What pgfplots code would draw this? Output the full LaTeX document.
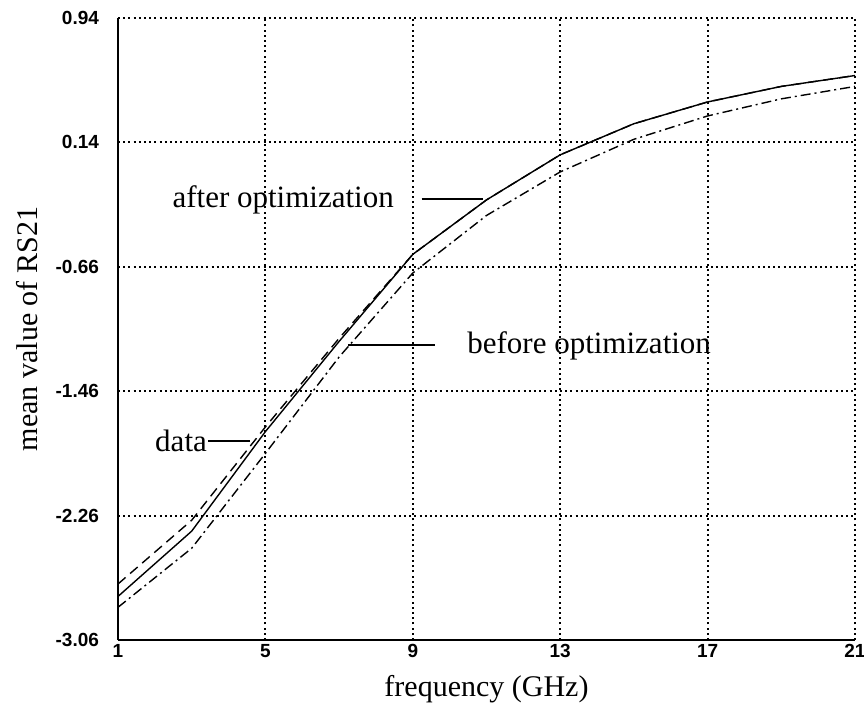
\documentclass[border=0pt]{standalone}
\usepackage{fontspec}
\setmainfont{Liberation Serif}
\setsansfont{Liberation Sans}
\usepackage{pgfplots}
\pgfplotsset{compat=1.18}
\begin{document}
\begin{tikzpicture}
\useasboundingbox (-59pt,-35pt) rectangle (373pt,320pt);
\begin{axis}[
  anchor=south west, at={(0,0)},
  scale only axis, width=368.5pt, height=311pt,
  xmin=1, xmax=21, ymin=-3.06, ymax=0.94,
  axis x line*=bottom, axis y line*=left,
  axis line style={-, line width=1pt},
  xtick={1,5,9,13,17,21},
  xticklabels={1,5,9,13,17,21},
  ytick={-3.06,-2.26,-1.46,-0.66,0.14,0.94},
  yticklabels={-3.06,-2.26,-1.46,-0.66,0.14,0.94},
  major tick length=0pt,
  grid=major,
  major grid style={line width=1pt, black, dash pattern=on 1pt off 1.6pt},
  ticklabel style={font=\fontsize{9.5}{10}\selectfont\sffamily\bfseries},
  yticklabel style={xshift=-6pt},
  xticklabel style={yshift=1.5pt},
  xlabel={frequency (GHz)},
  ylabel={mean value of RS21},
  label style={font=\fontsize{15}{17}\selectfont},
  xlabel style={yshift=-2pt},
  ylabel style={yshift=2pt},
  clip=false,
]
\addplot[black, line width=0.7pt] coordinates {
 (1,-2.78) (3,-2.36) (5,-1.72) (7,-1.14) (9,-0.58) (11,-0.23)
 (13,0.06) (15,0.26) (17,0.40) (19,0.50) (21,0.57)};
\addplot[black, line width=0.7pt, dash pattern=on 5pt off 3pt] coordinates {
 (1,-2.70) (3,-2.29) (5,-1.69) (7,-1.12) (9,-0.58) (11,-0.23)
 (13,0.06) (15,0.26) (17,0.40) (19,0.50) (21,0.57)};
\addplot[black, line width=0.7pt, dash pattern=on 5pt off 2pt on 1pt off 2pt] coordinates {
 (1,-2.85) (3,-2.47) (5,-1.86) (7,-1.24) (9,-0.70) (11,-0.33)
 (13,-0.05) (15,0.16) (17,0.31) (19,0.42) (21,0.50)};
\node[anchor=west, inner sep=0pt, font=\fontsize{15.5}{17}\selectfont] at (axis cs:2.47,-0.23) {after optimization};
\draw[black, line width=0.8pt] (axis cs:9.24,-0.225) -- (axis cs:10.9,-0.225);
\node[anchor=west, inner sep=0pt, font=\fontsize{15.5}{17}\selectfont] at (axis cs:10.47,-1.17) {before optimization};
\draw[black, line width=0.9pt] (axis cs:7.25,-1.165) -- (axis cs:9.6,-1.165);
\node[anchor=west, inner sep=0pt, font=\fontsize{15.5}{17}\selectfont] at (axis cs:2.0,-1.78) {data};
\draw[black, line width=0.8pt] (axis cs:3.44,-1.78) -- (axis cs:4.58,-1.78);
\end{axis}
\end{tikzpicture}
\end{document}
